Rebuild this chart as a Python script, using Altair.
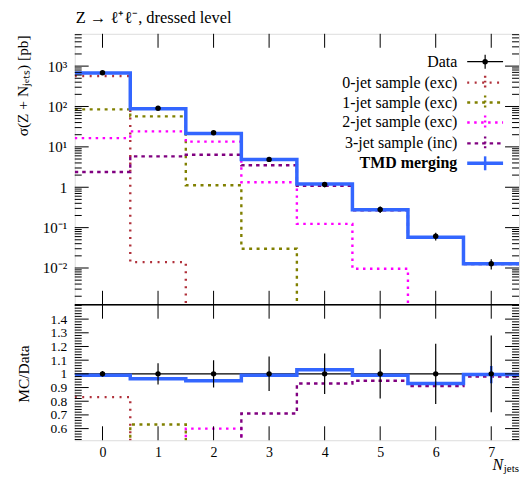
import altair as alt
import pandas as pd

FONT = "Liberation Serif"

# ---------------- data ----------------
n_jets = [0, 1, 2, 3, 4, 5, 6, 7]
data_xsec = [685, 91, 22.5, 4.9, 1.17, 0.281, 0.0616, 0.0128]
data_rel_err = [0.02, 0.078, 0.10, 0.126, 0.148, 0.18, 0.22, 0.28]
tmd_xsec = [678, 88, 21.4, 4.85, 1.2, 0.278, 0.0574, 0.0127]
jet0_xsec = [570, 0.014, 0, 0, 0, 0, 0, 0]
jet1_xsec = [85, 57, 1.12, 0.030, 0, 0, 0, 0]
jet2_xsec = [16.5, 24.2, 13.5, 1.33, 0.124, 0.0096, 0, 0]
jet3_xsec = [2.39, 5.8, 6.4, 3.5, 1.09, 0.267, 0.056, 0.0125]

data_ratio = [1, 1, 1, 1, 1, 1, 1, 1]
tmd_ratio = [0.99, 0.965, 0.95, 0.99, 1.03, 0.99, 0.93, 0.995]
tmd_ratio_err = [0, 0, 0, 0, 0, 0, 0.012, 0.063]
jet0_ratio = [0.83, 0.0002, 0, 0, 0, 0, 0, 0]
jet1_ratio = [0.12, 0.63, 0.05, 0.006, 0, 0, 0, 0]
jet2_ratio = [0.024, 0.27, 0.6, 0.27, 0.106, 0.034, 0, 0]
jet3_ratio = [0.0035, 0.064, 0.28, 0.71, 0.93, 0.95, 0.91, 0.98]

series_labels = ["Data", "0-jet sample (exc)", "1-jet sample (exc)",
                 "2-jet sample (exc)", "3-jet sample (inc)", "TMD merging"]
series_colors = ["black", "#b0303a", "#808000", "#ff00ff", "#800080", "#3366ff"]
series_dash = [None, [2, 5.5], [3, 4.5], [2.5, 4.5], [3.5, 4], None]

title_text = "Z \u2192 \u2113\u207a\u2113\u207b, dressed level"
ytitle_top = "\u03c3(Z + N\u2c7c\u2091\u209c\u209b) [pb]"
ytitle_ratio = "MC/Data"

log_major = [0.01, 0.1, 1, 10, 100, 1000]
log_labels = {0.01: "10\u207b\u00b2", 0.1: "10\u207b\u00b9", 1: "1",
              10: "10\u00b9", 100: "10\u00b2", 1000: "10\u00b3"}
ratio_major = [0.6, 0.7, 0.8, 0.9, 1.0, 1.1, 1.2, 1.3, 1.4]

# ---------------- layout constants ----------------
W, HT, HR = 446, 272, 136
LEFT, TOP = 66, 24
LOG_DOM = [0.00123, 6310]
R_DOM = [0.515, 1.505]
MAJ, MIN = 14, 7

log_minor = [m * 10.0 ** k for k in range(-3, 4) for m in range(2, 10)
             if LOG_DOM[0] < m * 10.0 ** k < LOG_DOM[1]]
ratio_minor = [round(0.52 + 0.02 * i, 2) for i in range(50)]
ratio_minor = [v for v in ratio_minor if v < R_DOM[1] and
               min(abs(v - m) for m in ratio_major) > 1e-6]

xsc = alt.Scale(domain=[-0.5, 7.5], nice=False, zero=False)
ysc_top = alt.Scale(type="log", domain=LOG_DOM, nice=False)
ysc_r = alt.Scale(domain=R_DOM, nice=False, zero=False)

lab_expr = " : ".join(
    f"datum.value > {v * 0.99} && datum.value < {v * 1.01} ? '{s}'"
    for v, s in log_labels.items()) + " : ''"

yaxis_top = alt.Axis(values=log_major, labelExpr=lab_expr, ticks=False, domain=False,
                     grid=False, labelFont=FONT, labelFontSize=15, labelPadding=8,
                     labelOverlap=False, labelColor="black", title=ytitle_top,
                     titleFont=FONT, titleFontSize=15.5, titleFontWeight="normal",
                     titleColor="black", titleAngle=270, titleX=-47, titleY=1,
                     titleAlign="right", titleBaseline="alphabetic")
yaxis_r = alt.Axis(values=ratio_major,
                   labelExpr="datum.value > 0.99 && datum.value < 1.01 ? '1' : format(datum.value, '.1f')",
                   ticks=False, domain=False, grid=False, labelFont=FONT, labelFontSize=13.5,
                   labelPadding=8, labelOverlap=False, labelColor="black",
                   title=ytitle_ratio, titleFont=FONT, titleFontSize=15.5,
                   titleFontWeight="normal", titleColor="black", titleAngle=270,
                   titleX=-46, titleY=69, titleAlign="center", titleBaseline="alphabetic")
xaxis_r = alt.Axis(values=n_jets, format="d", ticks=False, domain=False, grid=False,
                   labelFont=FONT, labelFontSize=14, labelPadding=5, labelColor="black",
                   labelOverlap=False, title=None)

dummy = pd.DataFrame({"d": [0]})


def step_df(vals, floor):
    edges = [n - 0.5 for n in n_jets] + [n_jets[-1] + 0.5]
    ys = [max(v, floor) for v in vals] + [max(vals[-1], floor)]
    return pd.DataFrame({"x": edges, "y": ys})


def panel_layers(ysc, yaxis, xaxis, H, samples, tmd, tmd_err_lo, tmd_err_hi,
                 dvals, dlo, dhi, floor, ymaj, ymin, ref_line=False):
    X = lambda: alt.X("x:Q", scale=xsc, axis=xaxis)
    Y = lambda: alt.Y("y:Q", scale=ysc, axis=yaxis)
    layers = []
    for vals, col, dash in zip(samples, series_colors[1:5], series_dash[1:5]):
        layers.append(alt.Chart(step_df(vals, floor)).mark_line(
            interpolate="step-after", color=col, strokeDash=dash, strokeWidth=2.4,
            clip=True).encode(x=X(), y=Y()))
    if ref_line:
        layers.append(alt.Chart(pd.DataFrame({"y": [1]})).mark_rule(
            color="black", strokeWidth=1.2).encode(y=Y()))
    layers.append(alt.Chart(step_df(tmd, floor)).mark_line(
        interpolate="step-after", color=series_colors[5], strokeWidth=3.5,
        clip=True).encode(x=X(), y=Y()))
    terr = pd.DataFrame({"x": n_jets, "y": tmd_err_lo, "hi": tmd_err_hi})
    terr = terr[terr["hi"] > terr["y"] * 1.0001]
    layers.append(alt.Chart(terr).mark_rule(color=series_colors[5], strokeWidth=2.5,
                                            clip=True).encode(x=X(), y=Y(), y2="hi:Q"))
    derr = pd.DataFrame({"x": n_jets, "y": dlo, "hi": dhi})
    layers.append(alt.Chart(derr).mark_rule(color="black", strokeWidth=1.2,
                                            clip=True).encode(x=X(), y=Y(), y2="hi:Q"))
    dpts = pd.DataFrame({"x": n_jets, "y": dvals})
    layers.append(alt.Chart(dpts).mark_circle(color="black", size=30, opacity=1,
                                              clip=True).encode(x=X(), y=Y()))
    # inward ticks
    for vals, ln in ((ymaj, MAJ), (ymin, MIN)):
        df = pd.DataFrame({"y": vals})
        layers.append(alt.Chart(df).mark_rule(color="black", strokeWidth=1).encode(
            y=Y(), x=alt.value(0), x2=alt.value(ln)))
        layers.append(alt.Chart(df).mark_rule(color="black", strokeWidth=1).encode(
            y=Y(), x=alt.value(W - ln), x2=alt.value(W)))
    xdf = pd.DataFrame({"x": n_jets})
    layers.append(alt.Chart(xdf).mark_rule(color="black", strokeWidth=1).encode(
        x=X(), y=alt.value(0), y2=alt.value(MAJ)))
    layers.append(alt.Chart(xdf).mark_rule(color="black", strokeWidth=1).encode(
        x=X(), y=alt.value(H - MAJ), y2=alt.value(H)))
    return layers


# ---------------- top panel ----------------
top_layers = panel_layers(
    ysc_top, yaxis_top, None, HT,
    [jet0_xsec, jet1_xsec, jet2_xsec, jet3_xsec], tmd_xsec,
    [t * (1 - e) for t, e in zip(tmd_xsec, tmd_ratio_err)],
    [t * (1 + e) for t, e in zip(tmd_xsec, tmd_ratio_err)],
    data_xsec,
    [d * (1 - e) for d, e in zip(data_xsec, data_rel_err)],
    [d * (1 + e) for d, e in zip(data_xsec, data_rel_err)],
    1e-6, log_major, log_minor)

# bounds anchor (keeps the plot origin at a fixed offset)
top_layers.append(alt.Chart(dummy).mark_rule(opacity=0).encode(
    x=alt.value(-LEFT), x2=alt.value(-LEFT + 1), y=alt.value(-TOP)))
# title
top_layers.append(alt.Chart(dummy).mark_text(
    text=title_text, align="left", baseline="alphabetic", font=FONT, fontSize=16.5,
    color="black").encode(x=alt.value(1), y=alt.value(-10.5)))

# legend
leg_y = [28, 49, 69, 89, 110, 130]
LX_TEXT, LX0, LX1 = 384, 394, 430
LXC = (LX0 + LX1) / 2
for i, (lab, col) in enumerate(zip(series_labels, series_colors)):
    yy = leg_y[i]
    top_layers.append(alt.Chart(dummy).mark_text(
        text=lab, align="right", baseline="middle", font=FONT, fontSize=16,
        fontWeight="bold" if i == 5 else "normal", color="black").encode(
        x=alt.value(LX_TEXT), y=alt.value(yy)))
    if i == 0:
        kw = dict(color="black", strokeWidth=1.2)
        kwv = kw
    elif i == 5:
        kw = dict(color=col, strokeWidth=3.5)
        kwv = dict(color=col, strokeWidth=2.5)
    else:
        kw = dict(color=col, strokeWidth=2.4, strokeDash=series_dash[i])
        kwv = dict(color=col, strokeWidth=2.4, strokeDash=[2, 3])
    top_layers.append(alt.Chart(dummy).mark_rule(**kw).encode(
        x=alt.value(LX0), x2=alt.value(LX1), y=alt.value(yy)))
    top_layers.append(alt.Chart(dummy).mark_rule(**kwv).encode(
        x=alt.value(LXC), y=alt.value(yy - 7), y2=alt.value(yy + 7)))
    if i == 0:
        top_layers.append(alt.Chart(dummy).mark_circle(color="black", size=30, opacity=1).encode(
            x=alt.value(LXC), y=alt.value(yy)))

top = alt.layer(*top_layers).properties(width=W, height=HT)

# ---------------- ratio panel ----------------
r_layers = panel_layers(
    ysc_r, yaxis_r, xaxis_r, HR,
    [jet0_ratio, jet1_ratio, jet2_ratio, jet3_ratio], tmd_ratio,
    [t - e for t, e in zip(tmd_ratio, tmd_ratio_err)],
    [t + e for t, e in zip(tmd_ratio, tmd_ratio_err)],
    data_ratio,
    [d - e for d, e in zip(data_ratio, data_rel_err)],
    [d + e for d, e in zip(data_ratio, data_rel_err)],
    0, ratio_major, ratio_minor, ref_line=True)
# panel separator
r_layers.append(alt.Chart(dummy).mark_rule(color="black", strokeWidth=1.5).encode(
    x=alt.value(0), x2=alt.value(W), y=alt.value(0)))
# x title N_jets
r_layers.append(alt.Chart(dummy).mark_text(
    text="jets", align="right", baseline="alphabetic", font=FONT, fontSize=11,
    color="black").encode(x=alt.value(W), y=alt.value(HR + 32)))
r_layers.append(alt.Chart(dummy).mark_text(
    text="N", align="right", baseline="alphabetic", font=FONT, fontSize=16,
    fontStyle="italic", color="black").encode(x=alt.value(W - 16), y=alt.value(HR + 30)))

ratio = alt.layer(*r_layers).properties(width=W, height=HR)

chart = alt.vconcat(top, ratio, spacing=0, bounds="flush").properties(
    padding={"left": 0, "top": 0, "right": 0, "bottom": 0}
).configure_view(stroke="black", strokeWidth=1).configure(background="white")

chart.save("out.html", embed_options={"renderer": "svg", "actions": False})
